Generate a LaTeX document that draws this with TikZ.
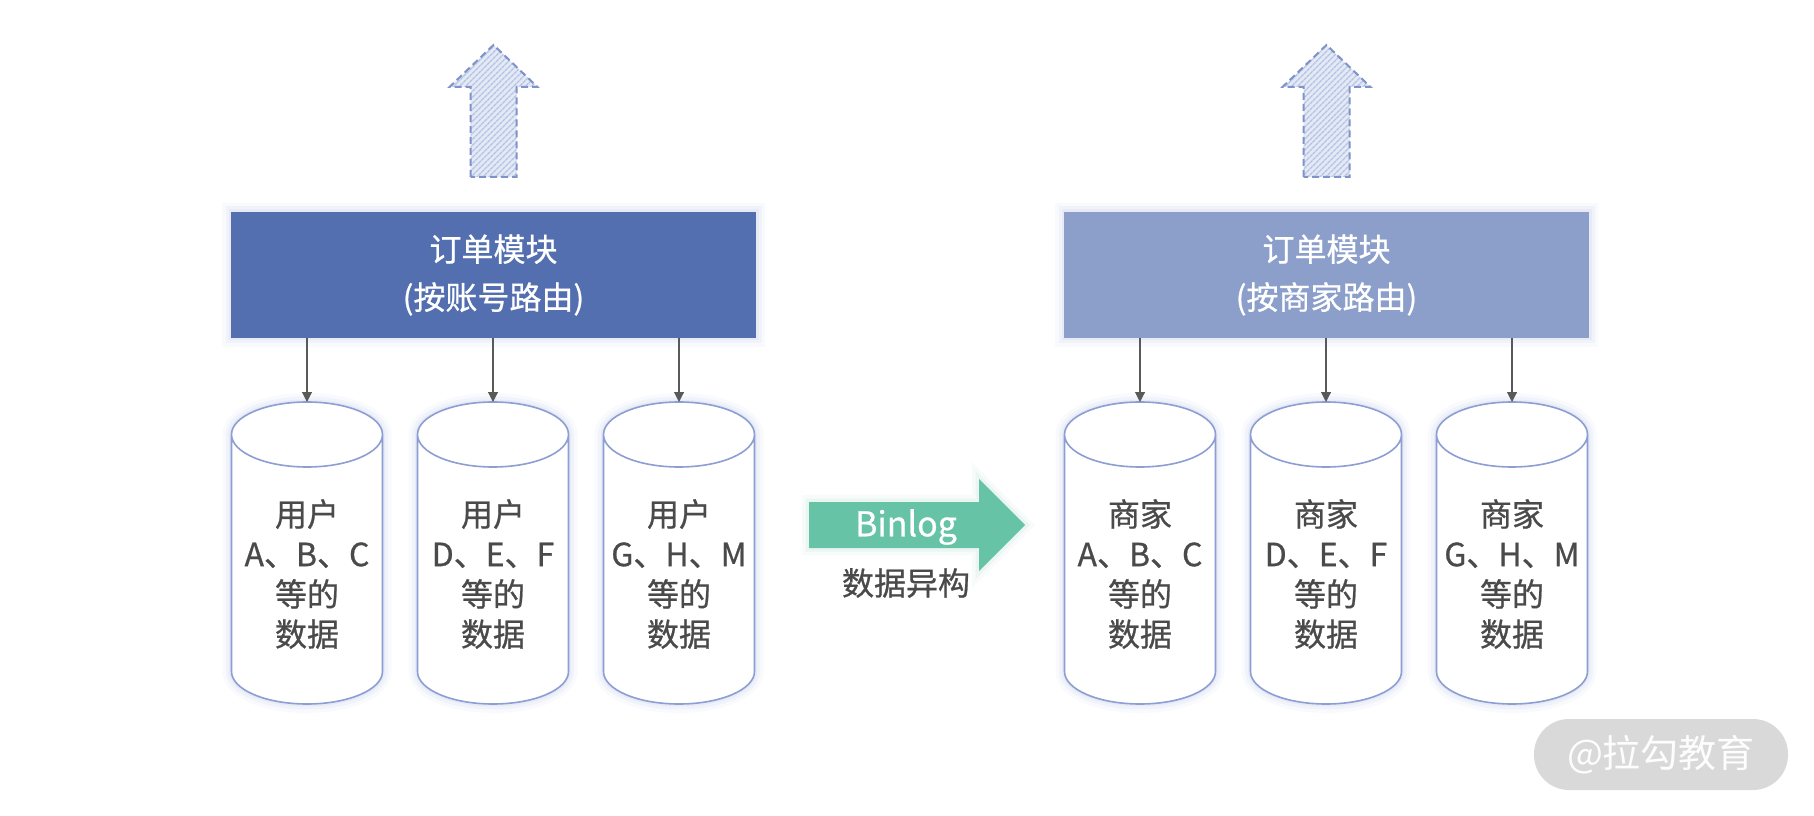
\documentclass[tikz,border=0pt]{standalone}
\usepackage{fontspec}
\setmainfont{Noto Sans CJK SC}
\newfontfamily\medfont{Noto Sans CJK SC}[FakeBold=0.7]
\usetikzlibrary{arrows.meta,patterns.meta}
\definecolor{boxA}{HTML}{536FB0}
\definecolor{boxB}{HTML}{8C9FCB}
\definecolor{cylc}{HTML}{8C9ED3}
\definecolor{glowc}{HTML}{7F93D0}
\definecolor{txtc}{HTML}{4A4A4A}
\definecolor{conc}{HTML}{595959}
\definecolor{grn}{HTML}{66C3A5}
\definecolor{upbg}{HTML}{E4E9F6}
\definecolor{upst}{HTML}{B5C2E4}
\definecolor{updash}{HTML}{7F93C9}
\definecolor{wm}{HTML}{D9D9D9}
\newcommand\dbcyl[3]{%
  \path[glow, fill=white] (#2-75.5,380.5) -- (#2-75.5,143.5)
    arc[start angle=180,end angle=360,x radius=75.5,y radius=32.5]
    -- (#2+75.5,380.5)
    arc[start angle=0,end angle=180,x radius=75.5,y radius=32.5] -- cycle;
  \draw[cylc, line width=1.6pt] (#2-75.5,380.5) -- (#2-75.5,143.5)
    arc[start angle=180,end angle=360,x radius=75.5,y radius=32.5]
    -- (#2+75.5,380.5)
    arc[start angle=0,end angle=360,x radius=75.5,y radius=32.5];
  \node[cyltext] (#1) at (#2,241) {#3};
  \coordinate (#1top) at (#2,413);
}
\newcommand\uparrowshape[1]{%
  \draw[uparr] (#1-23,638) -- (#1-23,728) -- (#1-44,728) -- (#1,770)
    -- (#1+44,728) -- (#1+23,728) -- (#1+23,638) -- cycle;
}
\begin{document}
\begin{tikzpicture}[x=1pt,y=1pt,
  glow/.style={preaction={draw=glowc,line width=18pt,opacity=0.04},
               preaction={draw=glowc,line width=11pt,opacity=0.06},
               preaction={draw=glowc,line width=5pt,opacity=0.08}},
  greenglow/.style={preaction={draw=grn,line width=14pt,opacity=0.05},
               preaction={draw=grn,line width=7pt,opacity=0.08}},
  modbox/.style={glow, text=white, minimum width=525pt, minimum height=126pt,
                 inner sep=0pt, align=center, font=\medfont\fontsize{32}{48}\selectfont},
  cyltext/.style={text=txtc, align=center, inner sep=0pt,
                  font=\medfont\fontsize{32}{40}\selectfont},
  conn/.style={draw=conc, line width=1.1pt, -{Triangle[length=10pt,width=10pt]}},
  uparr/.style={draw=updash, line width=2pt, dash pattern=on 7pt off 4pt,
                preaction={fill=upbg},
                pattern={Lines[angle=45,distance=4pt,line width=1.6pt]},
                pattern color=upst},
]
\useasboundingbox (0,0) rectangle (1814,815);
\fill[white] (0,0) rectangle (1814,815);

% up arrows
\uparrowshape{493.5}
\uparrowshape{1326.5}

% module boxes
\node[modbox, fill=boxA] (boxL) at (493.5,540) {订单模块\\(按账号路由)};
\node[modbox, fill=boxB] (boxR) at (1326.5,540) {订单模块\\(按商家路由)};

% cylinders
\dbcyl{c1}{307}{用户\\A、B、C\\等的\\数据}
\dbcyl{c2}{493}{用户\\D、E、F\\等的\\数据}
\dbcyl{c3}{679}{用户\\G、H、M\\等的\\数据}
\dbcyl{c4}{1140}{商家\\A、B、C\\等的\\数据}
\dbcyl{c5}{1326}{商家\\D、E、F\\等的\\数据}
\dbcyl{c6}{1512}{商家\\G、H、M\\等的\\数据}

% connectors
\draw[conn] (boxL.south -| c1top) -- (c1top);
\draw[conn] (boxL.south -| c2top) -- (c2top);
\draw[conn] (boxL.south -| c3top) -- (c3top);
\draw[conn] (boxR.south -| c4top) -- (c4top);
\draw[conn] (boxR.south -| c5top) -- (c5top);
\draw[conn] (boxR.south -| c6top) -- (c6top);

% Binlog arrow
\fill[grn, greenglow] (809,313) -- (979,313) -- (979,336) -- (1025,290)
  -- (979,244) -- (979,267) -- (809,267) -- cycle;
\node[text=white, font=\medfont\fontsize{34}{40}\selectfont, inner sep=0pt] (binlog) at (906,288) {Binlog};
\node[text=txtc, font=\medfont\fontsize{32}{40}\selectfont, inner sep=0pt] (hetero) at (906,232) {数据异构};

% watermark
\node[fill=wm, rounded corners=35pt, minimum width=254pt, minimum height=71pt,
      inner sep=0pt, text=white!96!wm, font=\fontsize{38}{44}\selectfont] (wmark)
      at (1661,60.5) {@拉勾教育};
\end{tikzpicture}
\end{document}
